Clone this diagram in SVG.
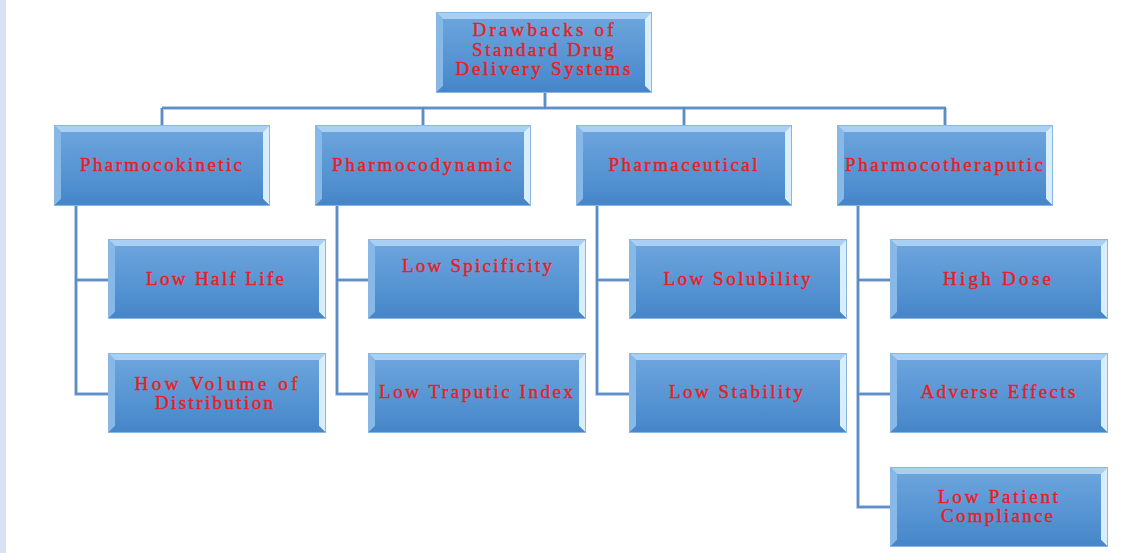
<svg xmlns="http://www.w3.org/2000/svg" xmlns:xlink="http://www.w3.org/1999/xlink" width="1126" height="553" viewBox="0 0 1126 553">
<style>
.t{font-family:"Liberation Serif","Times New Roman",serif;font-size:19px;fill:#ec1c24;stroke:#ec1c24;stroke-width:0.45;text-anchor:middle}
.c1{fill:none;stroke:#9dbde2;stroke-width:3.5}
.c2{fill:none;stroke:#4f81bd;stroke-width:1.6}
</style>
<defs>
<linearGradient id="g" x1="0" y1="0" x2="0" y2="1">
<stop offset="0" stop-color="#6fa7df"/>
<stop offset="1" stop-color="#4586c9"/>
</linearGradient>
<symbol id="b1" viewBox="0 0 216 81" width="216" height="81">
<rect x="0" y="0" width="216" height="81" fill="url(#g)"/>
<polygon points="0,0 216,0 209,7 7,7" fill="#a9d0f2"/>
<polygon points="0,0 7,7 7,74 0,81" fill="#86b8e8"/>
<polygon points="216,0 216,81 209,74 209,7" fill="#d9eefc"/>
<polygon points="0,81 216,81 209,74 7,74" fill="#4686c9"/>
<rect x="0.5" y="0.5" width="215" height="80" fill="none" stroke="#8cb6e2" stroke-width="1"/>
</symbol>
<symbol id="b2" viewBox="0 0 218 80" width="218" height="80">
<rect x="0" y="0" width="218" height="80" fill="url(#g)"/>
<polygon points="0,0 218,0 211,7 7,7" fill="#a9d0f2"/>
<polygon points="0,0 7,7 7,73 0,80" fill="#86b8e8"/>
<polygon points="218,0 218,80 211,73 211,7" fill="#d9eefc"/>
<polygon points="0,80 218,80 211,73 7,73" fill="#4686c9"/>
<rect x="0.5" y="0.5" width="217" height="79" fill="none" stroke="#8cb6e2" stroke-width="1"/>
</symbol>
</defs>
<rect x="0" y="0" width="1126" height="553" fill="#ffffff"/>
<rect x="0" y="0" width="6" height="553" fill="#d9e2f2"/>
<g id="connectors">
<path class="c1" d="M545,92V108M162,108H946M162,108V125M423,108V125M684,108V125M945,108V125M76,206V394H108M76,280H108M337,206V394H368M337,280H368M597,206V394H629M597,280H629M858,206V507H890M858,280H890M858,394H890"/>
<path class="c2" d="M545,92V108M162,108H946M162,108V125M423,108V125M684,108V125M945,108V125M76,206V394H108M76,280H108M337,206V394H368M337,280H368M597,206V394H629M597,280H629M858,206V507H890M858,280H890M858,394H890"/>
</g>
<g id="root">
<use xlink:href="#b1" x="436" y="12"/>
<text class="t" x="543" y="36" textLength="141" lengthAdjust="spacing">Drawbacks of</text>
<text class="t" x="543" y="55.5" textLength="142" lengthAdjust="spacing">Standard Drug</text>
<text class="t" x="543" y="75" textLength="175" lengthAdjust="spacing">Delivery Systems</text>
</g>
<g id="pharmocokinetic">
<use xlink:href="#b1" x="54" y="125"/>
<text class="t" x="161" y="171" textLength="162" lengthAdjust="spacing">Pharmocokinetic</text>
</g>
<g id="pharmocodynamic">
<use xlink:href="#b1" x="315" y="125"/>
<text class="t" x="422" y="171" textLength="180" lengthAdjust="spacing">Pharmocodynamic</text>
</g>
<g id="pharmaceutical">
<use xlink:href="#b1" x="576" y="125"/>
<text class="t" x="683" y="171" textLength="149" lengthAdjust="spacing">Pharmaceutical</text>
</g>
<g id="pharmocotheraputic">
<use xlink:href="#b1" x="837" y="125"/>
<text class="t" x="944" y="171" textLength="198" lengthAdjust="spacing">Pharmocotheraputic</text>
</g>
<g id="low-half-life">
<use xlink:href="#b2" x="108" y="239"/>
<text class="t" x="215" y="285" textLength="138" lengthAdjust="spacing">Low Half Life</text>
</g>
<g id="how-volume">
<use xlink:href="#b2" x="108" y="353"/>
<text class="t" x="216" y="389.5" textLength="163" lengthAdjust="spacing">How Volume of</text>
<text class="t" x="214" y="409" textLength="118" lengthAdjust="spacing">Distribution</text>
</g>
<g id="low-spicificity">
<use xlink:href="#b2" x="368" y="239"/>
<text class="t" x="477" y="272" textLength="150" lengthAdjust="spacing">Low Spicificity</text>
</g>
<g id="low-traputic-index">
<use xlink:href="#b2" x="368" y="353"/>
<text class="t" x="476" y="398" textLength="194" lengthAdjust="spacing">Low Traputic Index</text>
</g>
<g id="low-solubility">
<use xlink:href="#b2" x="629" y="239"/>
<text class="t" x="737" y="285" textLength="147" lengthAdjust="spacing">Low Solubility</text>
</g>
<g id="low-stability">
<use xlink:href="#b2" x="629" y="353"/>
<text class="t" x="736" y="398" textLength="134" lengthAdjust="spacing">Low Stability</text>
</g>
<g id="high-dose">
<use xlink:href="#b2" x="890" y="239"/>
<text class="t" x="997" y="285" textLength="108" lengthAdjust="spacing">High Dose</text>
</g>
<g id="adverse-effects">
<use xlink:href="#b2" x="890" y="353"/>
<text class="t" x="998" y="398" textLength="155" lengthAdjust="spacing">Adverse Effects</text>
</g>
<g id="low-patient-compliance">
<use xlink:href="#b2" x="890" y="467"/>
<text class="t" x="998" y="502.5" textLength="120" lengthAdjust="spacing">Low Patient</text>
<text class="t" x="997" y="522" textLength="112" lengthAdjust="spacing">Compliance</text>
</g>
</svg>
